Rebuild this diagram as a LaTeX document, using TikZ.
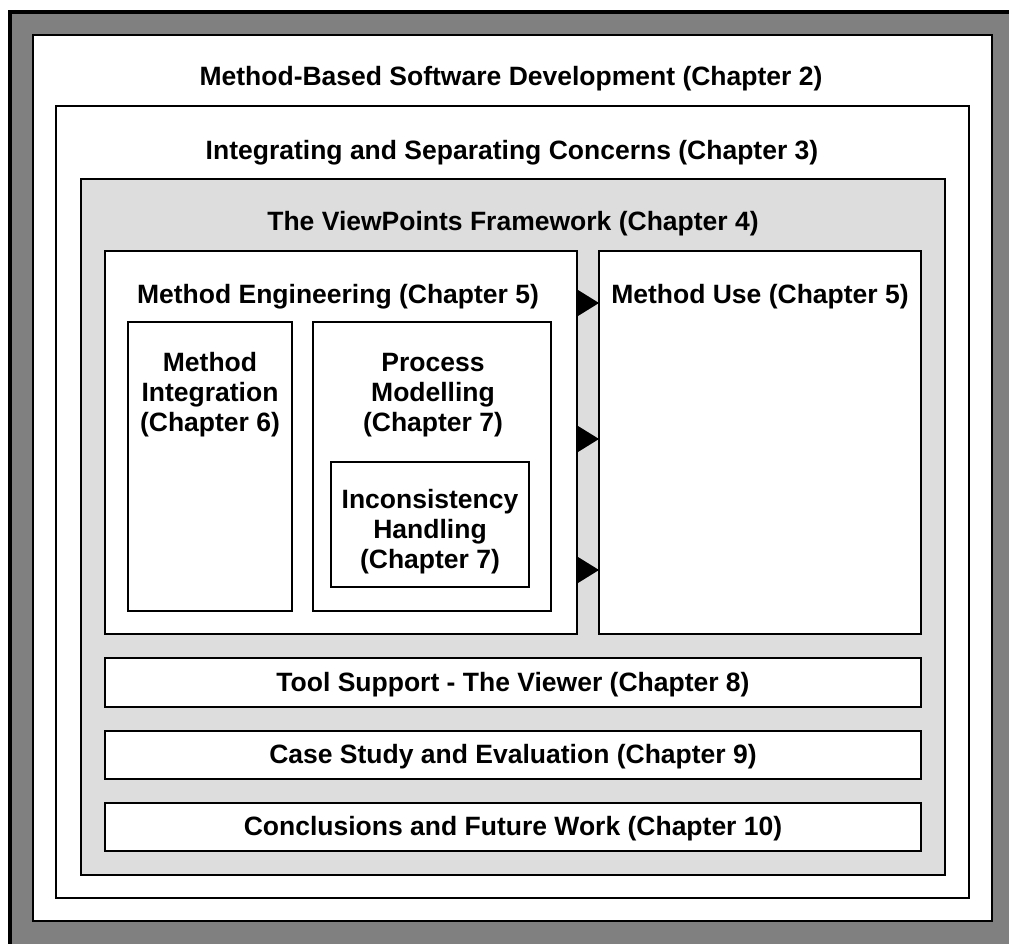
\documentclass[tikz,border=0pt]{standalone}
\usepackage{fontspec}
\setmainfont{Liberation Sans}
\usepackage{xcolor}
\usetikzlibrary{arrows.meta}
\definecolor{frm}{HTML}{808080}
\definecolor{lg}{HTML}{DDDDDD}

\begin{document}
\begin{tikzpicture}[
            x = 1pt, y = -1pt, % pixel units, y downwards
            font = \bfseries\fontsize{26.5}{30}\selectfont,
            line width = 2pt % line style
        ]

        \tikzstyle{box}=[
            draw = black,
            fill = white,
            rectangle,
            inner sep = 0pt,
            outer sep = 0pt
        ]
        \tikzstyle{lbl}=[
            align = center,
            inner sep = 0pt
        ]
        \tikzstyle{tip}=[
            -{Triangle[length = 21pt, width = 26pt]},
            line width = 0pt
        ]

        \useasboundingbox (0, 0) rectangle (1009, 944);
        \clip (0, 0) rectangle (1009, 944);

        \node[box, fill = frm, line width = 4pt, minimum width = 1100pt, minimum height = 1000pt] (frame) [at={(560, 512)}] {};
        \node[box, minimum width = 959pt, minimum height = 886pt] (dev) [at={(512.5, 478)}] {};
        \node[box, minimum width = 913pt, minimum height = 792pt] (conc) [at={(512.5, 502)}] {};
        \node[box, fill = lg, minimum width = 864pt, minimum height = 696pt] (vp) [at={(513, 527)}] {};
        \node[box, minimum width = 472pt, minimum height = 383pt] (eng) [at={(341, 442.5)}] {};
        \node[box, minimum width = 322pt, minimum height = 383pt] (use) [at={(760, 442.5)}] {};
        \node[box, minimum width = 164pt, minimum height = 289pt] (integ) [at={(210, 466.5)}] {};
        \node[box, minimum width = 238pt, minimum height = 289pt] (proc) [at={(432, 466.5)}] {};
        \node[box, minimum width = 198pt, minimum height = 125pt] (incon) [at={(430, 524.5)}] {};
        \node[box, minimum width = 816pt, minimum height = 49pt] (tool) [at={(513, 682.5)}] {};
        \node[box, minimum width = 816pt, minimum height = 48pt] (case) [at={(513, 755)}] {};
        \node[box, minimum width = 816pt, minimum height = 48pt] (concl) [at={(513, 827)}] {};

        \node[lbl, anchor = base] (devt) [at={(511, 86)}] {Method-Based Software Development (Chapter 2)};
        \node[lbl, anchor = base] (conct) [at={(512, 160)}] {Integrating and Separating Concerns (Chapter 3)};
        \node[lbl, anchor = base] (vpt) [at={(513, 230)}] {The ViewPoints Framework (Chapter 4)};
        \node[lbl, anchor = base] (engt) [at={(338, 303)}] {Method Engineering (Chapter 5)};
        \node[lbl, anchor = base] (uset) [at={(760, 303)}] {Method Use (Chapter 5)};
        \node[lbl] (integt) [at={(210, 395)}] {Method\\Integration\\(Chapter 6)};
        \node[lbl] (proct) [at={(433, 395)}] {Process\\Modelling\\(Chapter 7)};
        \node[lbl] (incont) [at={(430, 532)}] {Inconsistency\\Handling\\(Chapter 7)};
        \node[lbl, anchor = base] (toolt) [at={(513, 691)}] {Tool Support - The Viewer (Chapter 8)};
        \node[lbl, anchor = base] (caset) [at={(513, 763)}] {Case Study and Evaluation (Chapter 9)};
        \node[lbl, anchor = base] (conclt) [at={(513, 835)}] {Conclusions and Future Work (Chapter 10)};

        \draw[tip] (eng.east |- 0, 303) -- (use.west |- 0, 303);
        \draw[tip] (eng.east |- 0, 439) -- (use.west |- 0, 439);
        \draw[tip] (eng.east |- 0, 570) -- (use.west |- 0, 570);
    \end{tikzpicture}
\end{document}
